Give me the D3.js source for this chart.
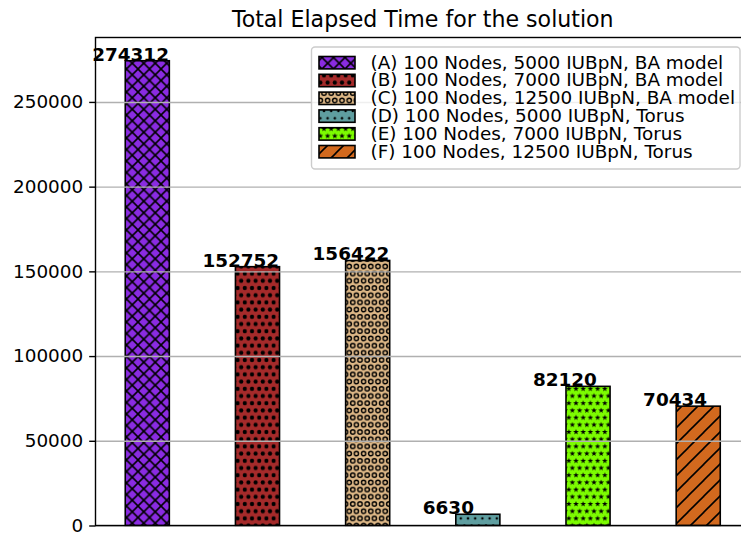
<!DOCTYPE html>
<html>
<head>
<meta charset="utf-8">
<script src="https://cdn.jsdelivr.net/npm/d3@7"></script>
<style>
  html, body { margin: 0; padding: 0; background: #fff; }
  svg { display: block; font-family: "DejaVu Sans", sans-serif; }
</style>
</head>
<body>
<svg id="chart" width="741" height="534"></svg>
<script>
// ---- data ----
const categories = [
  "(A) 100 Nodes, 5000 IUBpN, BA model",
  "(B) 100 Nodes, 7000 IUBpN, BA model",
  "(C) 100 Nodes, 12500 IUBpN, BA model",
  "(D) 100 Nodes, 5000 IUBpN, Torus",
  "(E) 100 Nodes, 7000 IUBpN, Torus",
  "(F) 100 Nodes, 12500 IUBpN, Torus"
];
const values = [274312, 152752, 156422, 6630, 82120, 70434];
const yTickValues = [0, 50000, 100000, 150000, 200000, 250000];
const titleText = "Total Elapsed Time for the solution";

// ---- styles ----
const barColors = ["#8a2be2", "#a52a2a", "#deb887", "#5f9ea0", "#7cfc00", "#d2691e"];
const hatchKinds = ["cross", "bigdots", "rings", "smalldots", "stars", "slash"];

const svg = d3.select("#chart");
const plot = { left: 95.5, right: 750, top: 37.5, bottom: 525.5 };
const FS = 18.4;

const x = d3.scaleLinear().domain([-0.47, values.length - 1 + 0.47]).range([plot.left, plot.right]);
const y = d3.scaleLinear().domain([0, d3.max(values) * 1.05]).range([plot.bottom, plot.top]);
const barW = 0.4;

// ---- hatch patterns ----
const defs = svg.append("defs");
function makePattern(kind, color, id) {
  const hw = 1.6;
  let p;
  if (kind === "cross") {
    const s = 11.5;
    p = defs.append("pattern").attr("id", id).attr("patternUnits", "userSpaceOnUse")
      .attr("width", s).attr("height", s);
    p.append("rect").attr("width", s).attr("height", s).attr("fill", color);
    const g = p.append("g").attr("stroke", "#000").attr("stroke-width", hw);
    g.append("line").attr("x1", -1).attr("y1", s + 1).attr("x2", s + 1).attr("y2", -1);
    g.append("line").attr("x1", -1).attr("y1", -1).attr("x2", s + 1).attr("y2", s + 1);
  } else if (kind === "slash") {
    const s = 16;
    p = defs.append("pattern").attr("id", id).attr("patternUnits", "userSpaceOnUse")
      .attr("width", s).attr("height", s);
    p.append("rect").attr("width", s).attr("height", s).attr("fill", color);
    const g = p.append("g").attr("stroke", "#000").attr("stroke-width", hw);
    g.append("line").attr("x1", -1).attr("y1", s + 1).attr("x2", s + 1).attr("y2", -1);
    g.append("line").attr("x1", -s / 2 - 1).attr("y1", s / 2 + 1).attr("x2", s / 2 + 1).attr("y2", -s / 2 - 1);
    g.append("line").attr("x1", s / 2 - 1).attr("y1", 3 * s / 2 + 1).attr("x2", 3 * s / 2 + 1).attr("y2", s / 2 - 1);
  } else {
    const s = 7.2;
    p = defs.append("pattern").attr("id", id).attr("patternUnits", "userSpaceOnUse")
      .attr("width", s).attr("height", 2 * s);
    p.append("rect").attr("width", s).attr("height", 2 * s).attr("fill", color);
    const pts = [[0, 0], [s, 0], [0, 2 * s], [s, 2 * s], [s / 2, s]];
    pts.forEach(([cx, cy]) => {
      if (kind === "bigdots") {
        p.append("circle").attr("cx", cx).attr("cy", cy).attr("r", 2.1).attr("fill", "#000");
      } else if (kind === "smalldots") {
        p.append("circle").attr("cx", cx).attr("cy", cy).attr("r", 1.3).attr("fill", "#000");
      } else if (kind === "rings") {
        p.append("circle").attr("cx", cx).attr("cy", cy).attr("r", 2.2)
          .attr("fill", "none").attr("stroke", "#000").attr("stroke-width", 1.4);
      } else if (kind === "stars") {
        const R = 3.0, r = 1.2;
        const star = d3.range(10).map(k => {
          const a = -Math.PI / 2 + k * Math.PI / 5;
          const rr = k % 2 === 0 ? R : r;
          return [cx + rr * Math.cos(a), cy + rr * Math.sin(a)];
        });
        p.append("path").attr("d", d3.line()(star) + "Z").attr("fill", "#000");
      }
    });
  }
}
barColors.forEach((c, i) => makePattern(hatchKinds[i], c, "hatch" + i));

// ---- bars ----
svg.append("g").selectAll("rect").data(values).join("rect")
  .attr("x", (d, i) => x(i - barW / 2))
  .attr("y", d => y(d))
  .attr("width", (d, i) => x(i + barW / 2) - x(i - barW / 2))
  .attr("height", d => y(0) - y(d))
  .attr("fill", (d, i) => "url(#hatch" + i + ")")
  .attr("stroke", "#000")
  .attr("stroke-width", 1.6);

// ---- grid (drawn above bars like matplotlib) ----
const grid = svg.append("g")
  .attr("transform", `translate(${plot.left},0)`)
  .call(d3.axisLeft(y).tickValues(yTickValues).tickSize(-(plot.right - plot.left)).tickFormat(""));
grid.select(".domain").remove();
grid.selectAll(".tick line").attr("stroke", "#b0b0b0").attr("stroke-width", 1.4);

// ---- y axis ----
const yAxis = svg.append("g")
  .attr("transform", `translate(${plot.left},0)`)
  .call(d3.axisLeft(y).tickValues(yTickValues).tickSize(6.3).tickPadding(6).tickFormat(d3.format("d")));
yAxis.select(".domain").remove();
yAxis.selectAll(".tick line").attr("stroke", "#000").attr("stroke-width", 1.4);
yAxis.selectAll(".tick text")
  .attr("font-family", "DejaVu Sans").attr("font-size", FS).attr("fill", "#000");

// ---- spines ----
svg.append("rect")
  .attr("x", plot.left).attr("y", plot.top)
  .attr("width", plot.right - plot.left).attr("height", plot.bottom - plot.top)
  .attr("fill", "none").attr("stroke", "#000").attr("stroke-width", 1.4);

// ---- value labels ----
svg.append("g").selectAll("text").data(values).join("text")
  .attr("x", (d, i) => x(i - 0.5))
  .attr("y", d => y(d))
  .attr("font-size", FS)
  .attr("font-weight", "bold")
  .attr("fill", "#000")
  .text(d => d);

// ---- title ----
svg.append("text")
  .attr("x", (plot.left + plot.right) / 2)
  .attr("y", 26.5)
  .attr("text-anchor", "middle")
  .attr("font-size", 22.1)
  .attr("fill", "#000")
  .text(titleText);

// ---- legend ----
const leg = svg.append("g");
leg.append("rect")
  .attr("x", 311.5).attr("y", 47).attr("width", 428.5).attr("height", 122)
  .attr("rx", 3.5).attr("ry", 3.5)
  .attr("fill", "#fff").attr("fill-opacity", 0.8)
  .attr("stroke", "#cccccc").attr("stroke-width", 1.4);
const rowH = 17.8;
const items = leg.selectAll("g.item").data(categories).join("g")
  .attr("class", "item")
  .attr("transform", (d, i) => `translate(0,${i * rowH})`);
items.append("rect")
  .attr("x", 319).attr("y", 56.5).attr("width", 36).attr("height", 12.4)
  .attr("fill", (d, i) => "url(#hatch" + i + ")")
  .attr("stroke", "#000").attr("stroke-width", 1.6);
items.append("text")
  .attr("x", 370.5).attr("y", 68.5)
  .attr("font-size", FS).attr("fill", "#000")
  .text(d => d);
</script>
</body>
</html>
